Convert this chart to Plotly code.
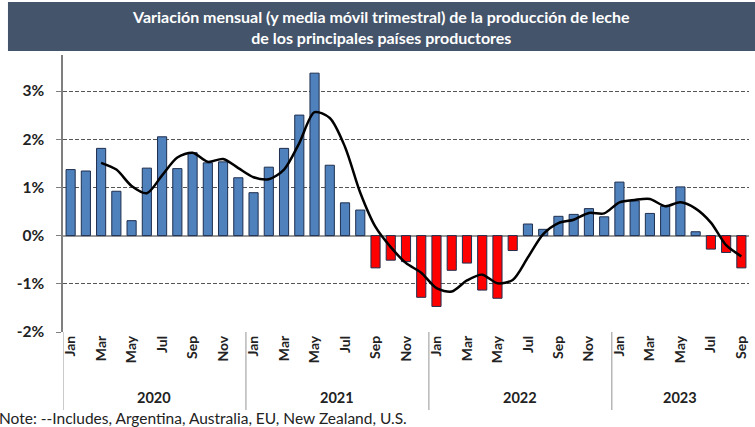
import plotly.graph_objects as go

months = ["Jan", "Feb", "Mar", "Apr", "May", "Jun", "Jul", "Aug", "Sep", "Oct", "Nov", "Dec"] * 3 + \
         ["Jan", "Feb", "Mar", "Apr", "May", "Jun", "Jul", "Aug", "Sep"]
years = ["2020", "2021", "2022", "2023"]
year_month_counts = [12, 12, 12, 9]

monthly_change = [
    1.37, 1.34, 1.81, 0.92, 0.31, 1.40, 2.05, 1.39, 1.72, 1.51, 1.53, 1.20,
    0.89, 1.42, 1.81, 2.50, 3.37, 1.46, 0.68, 0.53, -0.67, -0.51, -0.54, -1.28,
    -1.47, -0.72, -0.57, -1.13, -1.30, -0.31, 0.24, 0.13, 0.40, 0.44, 0.56, 0.39,
    1.11, 0.72, 0.46, 0.61, 1.01, 0.08, -0.28, -0.35, -0.67,
]
moving_avg = [
    None, None, 1.51, 1.37, 1.03, 0.88, 1.25, 1.62, 1.72, 1.53, 1.59, 1.40,
    1.21, 1.17, 1.37, 1.92, 2.56, 2.44, 1.84, 0.89, 0.18, -0.24, -0.57, -0.77,
    -1.09, -1.16, -0.93, -0.81, -0.99, -0.92, -0.45, 0.03, 0.26, 0.33, 0.47, 0.46,
    0.69, 0.74, 0.76, 0.61, 0.69, 0.56, 0.27, -0.20, -0.43,
]
y_ticks = [-2, -1, 0, 1, 2, 3]
y_tick_labels = ["-2%", "-1%", "0%", "1%", "2%", "3%"]
title_lines = ["Variación mensual (y media móvil trimestral) de la producción de leche",
               "de los principales países productores"]
note_text = "Note: --Includes, Argentina, Australia, EU, New Zealand, U.S."

W, H = 755, 427
L, R, T, B = 63, 748.6, 55, 332
FONT = "Lato"

def xp(px):
    return (px - L) / (R - L)

def yp(py):
    return (B - py) / (B - T)

n = len(monthly_change)
idx = list(range(n))
bar_colors = ["#4F81BD" if v >= 0 else "#FF0000" for v in monthly_change]

fig = go.Figure()
fig.add_trace(go.Bar(
    x=idx, y=monthly_change,
    marker=dict(color=bar_colors, line=dict(color="#1F2F4F", width=1)),
    width=0.6, showlegend=False, hoverinfo="skip",
))
fig.add_trace(go.Scatter(
    x=idx, y=moving_avg, mode="lines",
    line=dict(color="black", width=2.5, shape="spline", smoothing=0.8),
    showlegend=False, connectgaps=False, hoverinfo="skip",
))

tickvals = [i for i, m in enumerate(months) if m in ("Jan", "Mar", "May", "Jul", "Sep", "Nov")]
ticktext = [months[i] for i in tickvals]

ppu = (332 - 91) / 5.0
ytop = 3 + (91 - T) / ppu

fig.update_layout(
    width=W, height=H,
    margin=dict(l=L, r=W - R, t=T, b=H - B, autoexpand=False),
    paper_bgcolor="white", plot_bgcolor="white",
    bargap=0.4,
    xaxis=dict(
        range=[-0.5, n - 0.5], tickmode="array", tickvals=tickvals, ticktext=ticktext,
        tickangle=-90, showgrid=False, zeroline=False, showline=False, ticks="",
        automargin=False,
        tickfont=dict(family=FONT, size=14, color="#222222", weight="bold"),
    ),
    yaxis=dict(
        range=[-2, ytop], tickmode="array", tickvals=y_ticks, ticktext=y_tick_labels,
        showgrid=True, gridcolor="#555555", griddash="4px,2px", gridwidth=1,
        zeroline=True, zerolinecolor="#999999", zerolinewidth=1.5,
        showline=True, linecolor="#7F7F7F", linewidth=1.5,
        ticks="outside", ticklen=5, tickcolor="#7F7F7F", automargin=False,
        ticklabelstandoff=9,
        tickfont=dict(family=FONT, size=15.5, color="#222222", weight="bold"),
    ),
)

shapes = []
shapes.append(dict(type="rect", xref="paper", yref="paper",
                   x0=xp(8), x1=xp(756), y0=yp(51), y1=yp(2),
                   fillcolor="#44546A", line=dict(width=0), layer="above"))
start = 0
bounds = []
for c in year_month_counts:
    bounds.append(start - 0.5)
    start += c
for b in bounds:
    shapes.append(dict(type="line", xref="x", yref="paper", x0=b, x1=b,
                       y0=yp(332), y1=yp(410), line=dict(color="#A6A6A6", width=1.2)))
fig.update_layout(shapes=shapes)

ann = []
ann.append(dict(text="<b>" + title_lines[0] + "<br>" + title_lines[1] + "</b>",
                xref="paper", yref="paper", x=xp(381), y=yp(27),
                xanchor="center", yanchor="middle", showarrow=False,
                font=dict(family=FONT, size=16, color="white"), align="center"))
start = 0
for yr, c in zip(years, year_month_counts):
    center = start + (c - 1) / 2.0
    ann.append(dict(text="<b>" + yr + "</b>", xref="x", yref="paper", x=center, y=yp(397),
                    xanchor="center", yanchor="middle", showarrow=False,
                    font=dict(family=FONT, size=14.5, color="#222222")))
    start += c
ann.append(dict(text=note_text, xref="paper", yref="paper", x=xp(-3), y=yp(418),
                xanchor="left", yanchor="middle", showarrow=False,
                font=dict(family=FONT, size=15.5, color="#222222")))
fig.update_layout(annotations=ann)

fig.write_html("out.html", config={"displayModeBar": False},
               post_script="document.body.style.margin='0';document.body.style.padding='0';")
